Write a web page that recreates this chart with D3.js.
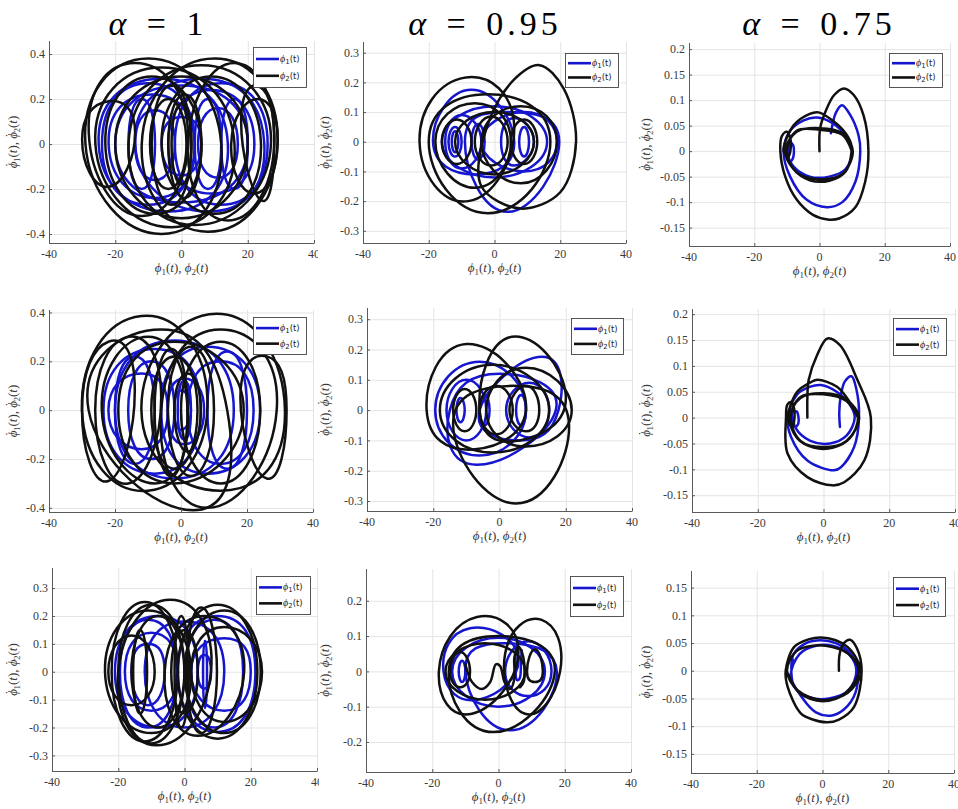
<!DOCTYPE html>
<html lang="en">
<head>
  <meta charset="utf-8" />
  <title>Phase portraits</title>
  <script src="https://cdn.jsdelivr.net/npm/d3@7"></script>
  <style>
    body { margin: 0; background: #fff; }
  </style>
</head>
<body>
  <div id="chart"></div>
  <script>
    // ---- data (data coordinates) ----
    const alphaLabels = ["1", "0.95", "0.75"];
    const xTicks = [-40, -20, 0, 20, 40];
    const xDomain = [-40, 40];

    const yDomains = [
      [[-0.44, 0.458], [-0.341, 0.336], [-0.186, 0.212]],
      [[-0.417, 0.41], [-0.333, 0.337], [-0.1825, 0.21]],
      [[-0.356, 0.372], [-0.285, 0.29], [-0.1845, 0.18]]
    ];
    const yTicks = [
      [[-0.4, -0.2, 0, 0.2, 0.4], [-0.3, -0.2, -0.1, 0, 0.1, 0.2, 0.3], [-0.15, -0.1, -0.05, 0, 0.05, 0.1, 0.15, 0.2]],
      [[-0.4, -0.2, 0, 0.2, 0.4], [-0.3, -0.2, -0.1, 0, 0.1, 0.2, 0.3], [-0.15, -0.1, -0.05, 0, 0.05, 0.1, 0.15, 0.2]],
      [[-0.3, -0.2, -0.1, 0, 0.1, 0.2, 0.3], [-0.2, -0.1, 0, 0.1, 0.2], [-0.15, -0.1, -0.05, 0, 0.05, 0.1, 0.15]]
    ];

    // loops: [left, top, right, bottom] points of each turn of the orbit
    const phi1_r1c1 = [
      [[-25, 0], [-6, 0.29], [14, 0], [-4, -0.30]],
      [[-14, 0], [6, 0.29], [25, 0], [8, -0.30]],
      [[-22, 0], [-9, 0.22], [4, 0], [-8, -0.24]],
      [[-4, 0], [9, 0.24], [22, 0], [9, -0.22]],
      [[-14, 0], [-8, 0.15], [-2, 0], [-8, -0.16]],
      [[5, 0], [11, 0.16], [17, 0], [11, -0.15]],
      [[-20, 0], [0, 0.26], [20, 0], [0, -0.26]],
      [[-6, 0], [0, 0.12], [6, 0], [0, -0.14]],
      [[-16, 0], [-12, 0.2], [-8, 0], [-12, -0.2]],
      [[4, 0], [8, 0.2], [12, 0], [8, -0.2]],
      [[-24, 0], [-10, 0.27], [4, 0], [-10, -0.27]],
      [[-2, 0], [12, 0.27], [26, 0], [12, -0.27]],
      [[12, 0], [16, 0.2], [20, 0], [16, -0.2]]
    ];
    const phi2_r1c1 = [
      [[-29, 0], [-10, 0.38], [12, 0], [-6, -0.40]],
      [[-12, 0], [10, 0.38], [29, 0], [8, -0.39]],
      [[-26, 0], [-6, 0.34], [16, 0], [-3, -0.37]],
      [[-16, 0], [6, 0.35], [27, 0], [4, -0.36]],
      [[-23, 0], [-9, 0.30], [6, 0], [-8, -0.31]],
      [[-6, 0], [9, 0.30], [24, 0], [10, -0.31]],
      [[-9, 0], [-3, 0.26], [3, 0], [-3, -0.27]],
      [[-4, 0], [1, 0.22], [6, 0], [1, -0.24]],
      [[-30, 0.02], [-22, 0.19], [-14, 0.05], [-22, -0.19]],
      [[15, 0], [23, 0.2], [29, 0], [22, -0.22]],
      [[-20, 0], [0, 0.3], [20, 0], [0, -0.33]],
      [[-9.5, 0], [-4, 0.2], [1.5, 0], [-4, -0.2]],
      [[-3, 0], [0, 0.18], [3, 0], [0, -0.18]],
      [[-28, 0.05], [-14, 0.36], [2, 0.05], [-12, -0.32]],
      [[2, 0], [16, 0.36], [28, 0], [14, -0.34]],
      [[18, 0.1], [24, 0.25], [28, 0], [24, -0.25]]
    ];

    const phi1_r1c2 = [
      [[-18.7, 0], [-7, 0.175], [6, 0], [-6, -0.11]],
      [[-9, 0], [4, 0.10], [19.7, 0], [4, -0.236]],
      [[-16, 0], [0, 0.12], [16, 0], [0, -0.12]],
      [[-4, 0], [9, 0.10], [19, 0], [9, -0.10]],
      [[-14, 0], [-12, 0.05], [-10, 0], [-12, -0.05]],
      [[-13, 0], [-12, 0.035], [-11, 0], [-12, -0.035]],
      [[-7, 0], [-5, 0.06], [-3, 0], [-5, -0.06]],
      [[7.5, 0], [9, 0.05], [10.5, 0], [9, -0.05]],
      [[2, 0], [6, 0.08], [12, 0], [6, -0.08]],
      [[-15, 0], [-10, 0.09], [-4, 0], [-10, -0.09]]
    ];
    const phi2_r1c2 = [
      [[-22.8, 0], [-9, 0.216], [6, 0.05], [-8, -0.20]],
      [[-2, 0.06], [6, 0.21], [13.7, 0.258], [21, 0.18], [24.8, 0], [20, -0.17], [8, -0.225], [-4, -0.15]],
      [[-20, 0], [-2, 0.16], [17, 0], [-2, -0.241]],
      [[-18, 0], [-6, 0.13], [5, 0], [-6, -0.155]],
      [[-4, 0], [8, 0.12], [19, 0], [8, -0.14]],
      [[-16, 0], [-11.5, 0.075], [-7, 0], [-11.5, -0.075]],
      [[-6, 0], [-1, 0.085], [4, 0], [-1, -0.08]],
      [[5, 0], [9, 0.075], [13, 0], [9, -0.075]],
      [[-12, 0], [0, 0.10], [12, 0], [0, -0.11]]
    ];

    // open orbits for the sparse alpha = 0.75 panels
    const phi1_r1c3 = [[
      [3.5, 0.035], [5, 0.075], [6.9, 0.09], [9.5, 0.07], [12, 0.03], [12.5, 0], [11, -0.06], [7, -0.1],
      [2.25, -0.11], [-4, -0.095], [-9, -0.05], [-11, 0], [-9, 0.04], [-5, 0.06], [-0.8, 0.066], [4, 0.055],
      [8, 0.03], [10, 0], [8, -0.035], [3, -0.05], [-3, -0.05], [-8, -0.03], [-10, 0], [-9.2, 0.018],
      [-8, 0.01], [-8.2, -0.015], [-9, -0.02], [-9.6, 0], [-9, 0.015]
    ]];
    const phi2_r1c3 = [[
      [0, 0], [0.2, 0.045], [2, 0.08], [4.5, 0.11], [7.5, 0.123], [10.5, 0.11], [13.5, 0.07], [15, 0],
      [14, -0.06], [11, -0.11], [6, -0.132], [2.5, -0.134], [-2, -0.125], [-7, -0.095], [-10.5, -0.05],
      [-12, 0], [-11.5, 0.03], [-10, 0.038], [-8.8, 0.02], [-9.5, -0.01], [-11, 0], [-8, 0.05], [-3, 0.073],
      [-0.3, 0.076], [4, 0.06], [8, 0.035], [9.8, 0.01], [8, -0.04], [3, -0.058], [-3, -0.057], [-8, -0.035],
      [-10.5, 0], [-7, 0.038], [0, 0.045], [7, 0.035], [10.2, 0], [7, -0.045], [0, -0.055], [-7, -0.042], [-10, 0],
      [-7, 0.04], [0, 0.042], [7, 0.032], [9.9, 0]
    ]];

    const phi1_r2c1 = [
      [[-23.5, 0], [-8, 0.25], [6, 0], [-8, -0.26]],
      [[-6, 0], [8, 0.26], [24, 0], [8, -0.26]],
      [[-20, 0], [-2, 0.285], [16, 0], [-2, -0.28]],
      [[-16, 0], [-9, 0.2], [-2, 0], [-9, -0.2]],
      [[-4, 0], [1, 0.13], [7, 0], [1, -0.14]],
      [[-2, 0], [0, 0.08], [3, 0], [0, -0.08]],
      [[2, 0], [12, 0.2], [22, 0], [12, -0.22]],
      [[-22, 0], [-12, 0.15], [-4, 0], [-12, -0.16]],
      [[-20, 0], [-14, 0.22], [-8, 0], [-14, -0.22]],
      [[8, 0], [14, 0.24], [20, 0], [14, -0.24]],
      [[-1, 0], [1, 0.12], [3, 0], [1, -0.12]]
    ];
    const phi2_r2c1 = [
      [[-30, 0], [-12, 0.385], [8, 0.05], [-10, -0.33]],
      [[-12, 0], [10.8, 0.395], [31.5, 0], [12, -0.33]],
      [[-28, 0], [-6, 0.33], [14, 0], [3.7, -0.41]],
      [[-6, 0], [12, 0.33], [29, 0], [8, -0.40]],
      [[-19, 0], [-2, 0.28], [19, 0], [-2, -0.30]],
      [[-9, 0], [-2, 0.22], [5, 0], [-2, -0.24]],
      [[-4, 0], [3, 0.26], [10, 0], [3, -0.27]],
      [[-30, 0], [-22, 0.28], [-14, 0.08], [-22, -0.29]],
      [[18, 0.05], [26, 0.22], [32, 0], [26, -0.28]],
      [[-24, 0], [-10, 0.3], [2, 0], [-8, -0.3]],
      [[0, 0], [12, 0.28], [24, 0], [12, -0.3]],
      [[-8, 0], [-3, 0.25], [2, 0], [-3, -0.27]],
      [[-2, 0], [2, 0.15], [6, 0], [2, -0.17]],
      [[-26, 0], [-16, 0.3], [-6, 0.05], [-16, -0.3]]
    ];

    const phi1_r2c2 = [
      [[-19.4, 0], [-6, 0.16], [8, 0], [-6, -0.15]],
      [[-6, 0], [12.8, 0.176], [17.8, 0], [6, -0.1]],
      [[-15, 0], [0, 0.12], [17, 0], [-6.8, -0.18]],
      [[-16, 0], [-10, 0.1], [-4, 0], [-10, -0.1]],
      [[-13, 0], [-11.8, 0.04], [-10.5, 0], [-11.8, -0.04]],
      [[-6, 0], [-4.5, 0.05], [-3, 0], [-4.5, -0.05]],
      [[5, 0], [6.5, 0.05], [8, 0], [6.5, -0.05]],
      [[2, 0], [9, 0.09], [15, 0], [9, -0.09]]
    ];
    const phi2_r2c2 = [
      [[-22, 0], [-10, 0.218], [8, 0.02], [-8, -0.13]],
      [[-14, -0.05], [4, 0.08], [21, -0.05], [5, -0.308]],
      [[-6, 0], [3.7, 0.242], [20, 0.05], [6, -0.1]],
      [[-18, 0], [-2, 0.15], [15, 0], [-2, -0.14]],
      [[-4, 0], [8, 0.14], [21.8, 0], [8, -0.12]],
      [[-14, 0], [-10.5, 0.07], [-7, 0], [-10.5, -0.07]],
      [[-6, 0], [-1, 0.08], [4, 0], [-1, -0.08]],
      [[3, 0], [8, 0.08], [12, 0], [8, -0.07]]
    ];

    const phi1_r2c3 = [[
      [5, -0.018], [4.8, 0.01], [5.2, 0.04], [6.5, 0.07], [8.5, 0.08], [10, 0.055], [10.8, 0], [9.3, -0.057],
      [5.3, -0.096], [3.2, -0.102], [-4.9, -0.083], [-9.9, -0.037], [-10.9, 0], [-8, 0.045], [-4, 0.06],
      [-0.8, 0.063], [4, 0.05], [8, 0.025], [9.5, 0], [7, -0.035], [2, -0.05], [-4, -0.045], [-8.5, -0.02],
      [-9.4, 0.01], [-8.2, 0.012], [-7.6, -0.01], [-8.5, -0.018], [-9.3, 0]
    ]];
    const phi2_r2c3 = [[
      [-4.9, 0], [-4.9, 0.04], [-4.5, 0.073], [-2, 0.12], [1.2, 0.153], [5, 0.14], [10.3, 0.073], [14.4, 0],
      [12.4, -0.083], [6.3, -0.125], [2.7, -0.131], [-4.9, -0.115], [-10.9, -0.07], [-11.4, 0], [-11, 0.025],
      [-9.8, 0.03], [-8.8, 0.01], [-9.5, -0.02], [-10.8, 0], [-8, 0.05], [-4, 0.068], [-1.8, 0.073], [4, 0.06],
      [8, 0.03], [10.5, 0], [8, -0.04], [3, -0.058], [-3, -0.058], [-8, -0.04], [-10.3, 0], [-7, 0.038],
      [0, 0.047], [7, 0.035], [10.8, 0], [7, -0.045], [0, -0.057], [-7, -0.045], [-10, 0], [-7, 0.04],
      [0, 0.045], [7, 0.032], [10.5, 0]
    ]];

    const phi1_r3c1 = [
      [[-21, 0], [-8, 0.2], [4, 0], [-8, -0.2]],
      [[-2, 0], [10, 0.2], [21.4, 0], [10, -0.216]],
      [[-18, 0], [-10, 0.14], [-2, 0], [-10, -0.14]],
      [[2, 0], [12, 0.12], [20, 0], [12, -0.14]],
      [[4, 0], [6, 0.06], [8, 0], [6, -0.06]],
      [[-12, 0], [0, 0.18], [12, 0], [0, -0.2]],
      [[-19.5, 0], [-11, 0.186], [-2.3, 0], [-11, -0.2]],
      [[0.3, 0], [9, 0.186], [17.7, 0], [9, -0.2]],
      [[5.6, 0], [6.2, 0.11], [6.8, 0], [6.2, -0.13]],
      [[-16, 0], [-11, 0.1], [-6, 0], [-11, -0.12]]
    ];
    const phi2_r3c1 = [
      [[-24, 0], [-11, 0.22], [2, 0], [-10, -0.22]],
      [[-20, 0], [-4.3, 0.258], [8, 0], [-8.4, -0.264]],
      [[-16, 0], [-8, 0.2], [0, 0], [-8, -0.2]],
      [[-2, 0], [10, 0.24], [22, 0], [10, -0.24]],
      [[-6, 0], [6, 0.2], [18, 0], [4, -0.23]],
      [[2, 0], [12, 0.16], [23.4, 0], [12, -0.18]],
      [[-4, 0], [0, 0.15], [4, 0], [0, -0.15]],
      [[-23, 0], [-16, 0.13], [-9, 0], [-16, -0.12]],
      [[-15.5, 0], [-13.4, 0.15], [-11.3, 0], [-13.4, -0.15]],
      [[0.7, 0], [5, 0.23], [9.8, 0], [5, -0.22]],
      [[-3, 0], [-1, 0.2], [1.3, 0], [-1, -0.2]],
      [[-22, 0], [-12, 0.25], [-2, 0], [-12, -0.25]],
      [[0, 0], [12, 0.22], [23, 0], [12, -0.22]],
      [[-20, 0], [-10, 0.24], [0, 0], [-10, -0.257]]
    ];

    const phi1_r3c2 = [
      [[-16.6, 0], [-8.6, 0.122], [6, 0.04], [-6, -0.08]],
      [[-10, 0], [2, 0.08], [17.6, 0], [3.5, -0.167]],
      [[-14, 0], [0, 0.095], [14, 0], [0, -0.1]],
      [[-12, 0], [-11, 0.03], [-10, 0], [-11, -0.03]],
      [[2, 0], [9, 0.085], [16, 0], [9, -0.07]]
    ];
    const phi1_r3c2_open = [[
      [5.2, 0.06], [5.1, 0.0], [5.6, -0.025], [6.4, -0.02], [6.8, 0.03], [7, 0.06]
    ]];
    const phi2_r3c2 = [
      [[-18, 0], [-6.5, 0.154], [6, 0.05], [-8, -0.12]],
      [[2, 0.05], [13, 0.146], [18.6, 0], [8, -0.12]],
      [[-15, 0], [0, 0.1], [17, 0], [-1.5, -0.172]],
      [[-16, 0], [-4, 0.08], [8, 0], [-4, -0.08]],
      [[-14.6, 0], [-11.6, 0.055], [-8.6, 0], [-11.6, -0.045]],
      [[8.6, 0], [11, 0.063], [13.4, 0], [11, -0.03]]
    ];
    const phi2_r3c2_open = [[
      [-10, 0.02], [-8, -0.03], [-5, -0.05], [-2.5, -0.03], [-0.8, 0.02], [0.5, 0.015], [1.8, -0.03],
      [3.5, -0.05], [4.8, -0.02], [4.8, 0.04], [6, 0.07], [7.5, 0.04], [7.6, -0.03], [6.5, -0.045]
    ]];

    const phi1_r3c3 = [[
      [-9, 0.02], [-9.5, 0], [-8.8, 0.03], [-5, 0.05], [-0.5, 0.055], [4, 0.05], [8, 0.035], [10.6, 0],
      [10, -0.04], [6.5, -0.07], [2.5, -0.081], [-2, -0.075], [-6, -0.05], [-9.6, -0.01], [-7, 0.03],
      [-2, 0.045], [3, 0.045], [8, 0.03], [10.3, 0], [8, -0.035], [2, -0.05], [-4, -0.048], [-8.5, -0.03], [-9.5, 0]
    ]];
    const phi2_r3c3 = [[
      [5, 0], [5.2, 0.03], [6.5, 0.05], [8.4, 0.056], [10.5, 0.04], [11.9, 0], [9.6, -0.065], [5, -0.088],
      [1.5, -0.093], [-3, -0.088], [-6.6, -0.077], [-10.6, -0.029], [-11.2, 0], [-8.6, 0.043], [-4, 0.057],
      [-0.5, 0.06], [4, 0.055], [7.6, 0.043], [10.5, 0.02], [11.7, -0.005], [7.6, -0.04], [0, -0.053],
      [-7.6, -0.035], [-10.8, 0], [-8, 0.035], [-3, 0.045], [3, 0.043], [8, 0.03], [11, 0], [7, -0.04],
      [0, -0.055], [-7, -0.04], [-10.5, -0.005]
    ]];

    // ---- layout ----
    const width = 958, height = 809;
    const panels = [
      { r: 0, c: 0, x0: 49, y0: 41, x1: 314, y1: 243, lg: [253, 47, 53, 40], clipR: 318, t1: -0.85, t2: -0.7, loops1: phi1_r1c1, loops2: phi2_r1c1 },
      { r: 0, c: 1, x0: 363, y0: 42, x1: 626, y1: 243, lg: [565, 53, 53, 34], loops1: phi1_r1c2, loops2: phi2_r1c2 },
      { r: 0, c: 2, x0: 689, y0: 43, x1: 950, y1: 246, lg: [889, 53, 53, 34], open1: phi1_r1c3, open2: phi2_r1c3 },
      { r: 1, c: 0, x0: 49, y0: 310, x1: 313, y1: 512, lg: [253, 317, 53, 37], t1: -0.85, t2: -0.7, loops1: phi1_r2c1, loops2: phi2_r2c1 },
      { r: 1, c: 1, x0: 367, y0: 308, x1: 632, y1: 511, lg: [571, 318, 52, 36], loops1: phi1_r2c2, loops2: phi2_r2c2 },
      { r: 1, c: 2, x0: 692, y0: 309, x1: 955, y1: 512, lg: [893, 318, 53, 37], open1: phi1_r2c3, open2: phi2_r2c3 },
      { r: 2, c: 0, x0: 52, y0: 568, x1: 317, y1: 771, lg: [256, 576, 54, 38], clipR: 319, t1: -0.85, t2: -0.7, loops1: phi1_r3c1, loops2: phi2_r3c1 },
      { r: 2, c: 1, x0: 366, y0: 569, x1: 631, y1: 772, lg: [570, 576, 53, 40], loops1: phi1_r3c2, open1: phi1_r3c2_open, loops2: phi2_r3c2, open2: phi2_r3c2_open },
      { r: 2, c: 2, x0: 691, y0: 571, x1: 954, y1: 773, lg: [893, 577, 52, 39], open1: phi1_r3c3, open2: phi2_r3c3 }
    ];
    const titleX = [156, 485, 819];
    const blue = "#1616cf", black = "#111";
    const serif = "'Liberation Serif', 'Times New Roman', 'DejaVu Serif', serif";

    const svg = d3.select("#chart").append("svg")
      .attr("width", width).attr("height", height)
      .attr("viewBox", [0, 0, width, height])
      .style("background", "#fff");

    const defs = svg.append("defs");

    // column titles
    alphaLabels.forEach((a, i) => {
      const t = svg.append("text")
        .attr("x", titleX[i]).attr("y", 35)
        .attr("text-anchor", "middle")
        .attr("font-family", serif).attr("font-size", 34)
        .attr("fill", "#000")
        .style("word-spacing", "12px");
      t.append("tspan").attr("font-style", "italic").text("α");
      t.append("tspan").text(" = ");
      t.append("tspan").style("letter-spacing", a.length > 1 ? "4px" : "0px").text(a);
    });

    const polyLoop = d3.line().curve(d3.curveCatmullRomClosed);
    const openLine = d3.line().curve(d3.curveCatmullRom);

    // "ϕ1(t), ϕ2(t)" with optional dot above for the derivative
    function phiLabel(sel, dotted) {
      [["1", "), "], ["2", ")"]].forEach(([n, tail]) => {
        sel.append("tspan").attr("font-style", "italic").text("ϕ");
        if (dotted) {
          sel.append("tspan").attr("dx", -5.6).attr("dy", -3).text("˙");
          sel.append("tspan").attr("font-size", 9).attr("dx", 0.8).attr("dy", 6).text(n);
        } else {
          sel.append("tspan").attr("font-size", 9).attr("dy", 3).text(n);
        }
        sel.append("tspan").attr("dy", -3).text("(");
        sel.append("tspan").attr("font-style", "italic").text("t");
        sel.append("tspan").text(tail);
      });
    }

    panels.forEach((p, k) => {
      const x = d3.scaleLinear().domain(xDomain).range([p.x0, p.x1]);
      const y = d3.scaleLinear().domain(yDomains[p.r][p.c]).range([p.y1, p.y0]);
      const yt = yTicks[p.r][p.c];
      const g = svg.append("g");

      // grid
      g.append("g").selectAll("line").data(xTicks).join("line")
        .attr("x1", d => x(d) + 0.5).attr("x2", d => x(d) + 0.5)
        .attr("y1", p.y0).attr("y2", p.y1)
        .attr("stroke", "#e4e4e4").attr("stroke-width", 1);
      g.append("g").selectAll("line").data(yt).join("line")
        .attr("x1", p.x0).attr("x2", p.x1)
        .attr("y1", d => y(d) + 0.5).attr("y2", d => y(d) + 0.5)
        .attr("stroke", "#e4e4e4").attr("stroke-width", 1);

      // trajectories: phi1 (blue) first, phi2 (black) on top
      const pts = arr => arr.map(([a, b]) => [x(a), y(b)]);
      const drawSet = (loops, open, color, tension) => {
        const loopLine = d3.line().curve(d3.curveCardinalClosed.tension(tension));
        const sg = g.append("g").attr("fill", "none").attr("stroke", color)
          .attr("stroke-width", 2.5).attr("stroke-linejoin", "round").attr("stroke-linecap", "round");
        (loops || []).forEach(l => sg.append("path")
          .attr("d", l.length === 4 ? loopLine(pts(l)) : polyLoop(pts(l))));
        (open || []).forEach(l => sg.append("path").attr("d", openLine(pts(l))));
      };
      drawSet(p.loops1, p.open1, blue, p.t1 || -0.62);
      drawSet(p.loops2, p.open2, black, p.t2 || -0.62);

      // axes (left + bottom only)
      const axisColor = "#5a5a5a";
      g.append("line").attr("x1", p.x0 + 0.5).attr("x2", p.x0 + 0.5).attr("y1", p.y0).attr("y2", p.y1 + 0.5)
        .attr("stroke", axisColor);
      g.append("line").attr("x1", p.x0).attr("x2", p.x1 + 0.5).attr("y1", p.y1 + 0.5).attr("y2", p.y1 + 0.5)
        .attr("stroke", axisColor);
      g.append("g").selectAll("line").data(xTicks).join("line")
        .attr("x1", d => x(d) + 0.5).attr("x2", d => x(d) + 0.5)
        .attr("y1", p.y1).attr("y2", p.y1 - 3).attr("stroke", axisColor);
      g.append("g").selectAll("line").data(yt).join("line")
        .attr("x1", p.x0).attr("x2", p.x0 + 3)
        .attr("y1", d => y(d) + 0.5).attr("y2", d => y(d) + 0.5).attr("stroke", axisColor);

      // tick labels
      const xl = g.append("g");
      if (p.clipR) {
        const id = "clip" + k;
        defs.append("clipPath").attr("id", id).append("rect")
          .attr("x", 0).attr("y", 0).attr("width", p.clipR).attr("height", height);
        xl.attr("clip-path", `url(#${id})`);
      }
      xl.selectAll("text").data(xTicks).join("text")
        .attr("x", d => x(d)).attr("y", p.y1 + 15)
        .attr("text-anchor", "middle")
        .attr("font-family", serif).attr("font-size", 12).attr("fill", "#3a3a3a")
        .text(d => String(d));
      g.append("g").selectAll("text").data(yt).join("text")
        .attr("x", p.x0 - 4).attr("y", d => y(d)).attr("dy", "0.35em")
        .attr("text-anchor", "end")
        .attr("font-family", serif).attr("font-size", 12).attr("fill", "#3a3a3a")
        .text(d => String(d));

      // axis labels
      const xlab = g.append("text")
        .attr("x", (p.x0 + p.x1) / 2).attr("y", p.y1 + 29)
        .attr("text-anchor", "middle")
        .attr("font-family", serif).attr("font-size", 13).attr("fill", "#3a3a3a");
      phiLabel(xlab, false);
      const ylx = [17, 329, 650][p.c];
      const ylab = g.append("text")
        .attr("transform", `translate(${ylx},${(p.y0 + p.y1) / 2}) rotate(-90)`)
        .attr("text-anchor", "middle")
        .attr("font-family", serif).attr("font-size", 13).attr("fill", "#3a3a3a");
      phiLabel(ylab, true);

      // legend
      const [lx, ly, lw, lh] = p.lg;
      const lgG = g.append("g");
      lgG.append("rect").attr("x", lx + 0.5).attr("y", ly + 0.5).attr("width", lw).attr("height", lh)
        .attr("fill", "#fff").attr("stroke", "#444").attr("stroke-width", 0.9);
      [[blue, "1"], [black, "2"]].forEach(([col, n], i) => {
        const yy = ly + lh * (i === 0 ? 0.3 : 0.72);
        lgG.append("line").attr("x1", lx + 3).attr("x2", lx + 26).attr("y1", yy).attr("y2", yy)
          .attr("stroke", col).attr("stroke-width", 2.6);
        const t = lgG.append("text").attr("x", lx + 27).attr("y", yy + 3)
          .attr("font-family", "'DejaVu Sans', sans-serif").attr("font-size", 8.5).attr("fill", "#222");
        t.append("tspan").attr("font-family", serif).attr("font-style", "italic").attr("font-size", 10).text("ϕ");
        t.append("tspan").attr("font-size", 7).attr("dy", 2).text(n);
        t.append("tspan").attr("dy", -2).text("(t)");
      });
    });
  </script>
</body>
</html>
